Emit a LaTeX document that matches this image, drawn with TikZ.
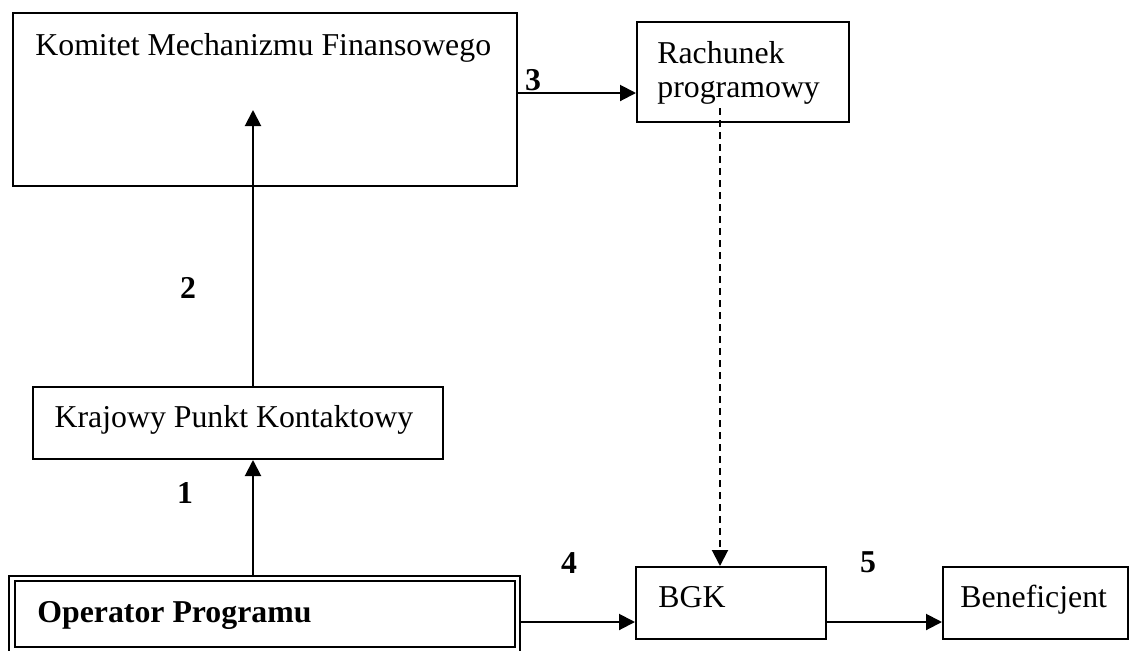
\documentclass[tikz,border=0pt]{standalone}
\usepackage{fontspec}
\setmainfont{Liberation Serif}
\usetikzlibrary{arrows.meta}
\begin{document}
\begin{tikzpicture}[x=0.5pt,y=-0.5pt,
  box/.style={draw,line width=1pt,inner sep=0pt,anchor=center},
  txt/.style={inner sep=0pt,font=\fontsize{15.9}{19}\selectfont},
  num/.style={inner sep=0pt,font=\fontsize{15.9}{19}\selectfont\bfseries},
  conn/.style={line width=1pt,-{Triangle[length=8pt,width=8pt]}}]
\useasboundingbox (0,0) rectangle (1132,650);
% boxes
\node[box,minimum width=252pt,minimum height=86.5pt] (km) at (265,99.5) {};
\node[box,minimum width=106pt,minimum height=50pt] (rp) at (743,72) {};
\node[box,minimum width=205pt,minimum height=36pt] (kp) at (238,423) {};
\node[box,minimum width=255.5pt,minimum height=38pt] (op) at (264.5,614) {};
\node[box,minimum width=250pt,minimum height=33pt] (opin) at (265,614) {};
\node[box,minimum width=95pt,minimum height=36pt] (bgk) at (731,603) {};
\node[box,minimum width=92.5pt,minimum height=36pt] (bf) at (1035.5,603) {};
% texts
\node[txt,anchor=base west] (kmt) at (35,55) {Komitet Mechanizmu Finansowego};
\node[txt,anchor=base west] (rpt1) at (657,63) {Rachunek};
\node[txt,anchor=base west] (rpt2) at (657,97) {programowy};
\node[txt,anchor=base] (kpt) at (234,427) {Krajowy Punkt Kontaktowy};
\node[txt,anchor=base west,font=\fontsize{15.9}{19}\selectfont\bfseries] (opt) at (37,622) {Operator Programu};
\node[txt,anchor=base west] (bgkt) at (658,607) {BGK};
\node[txt,anchor=base west] (bft) at (960,607) {Beneficjent};
% numbers
\node[num] (n1) at (185,493) {1};
\node[num] (n2) at (188,288) {2};
\node[num] (n3) at (533,80) {3};
\node[num] (n4) at (569,563) {4};
\node[num] (n5) at (868,562) {5};
% helper coordinates
\coordinate (ax) at (253,110);
\coordinate (y3) at (0,93);
\coordinate (dx) at (720,108);
\coordinate (y45) at (0,622);
% connectors
\draw[conn] (op.north -| ax) -- (kp.south -| ax);
\draw[conn] (kp.north -| ax) -- (ax);
\draw[conn] (km.east |- y3) -- (rp.west |- y3);
\draw[conn,dash pattern=on 3.5pt off 2.5pt] (dx) -- (bgk.north -| dx);
\draw[conn] (op.east |- y45) -- (bgk.west |- y45);
\draw[conn] (bgk.east |- y45) -- (bf.west |- y45);
\end{tikzpicture}
\end{document}
